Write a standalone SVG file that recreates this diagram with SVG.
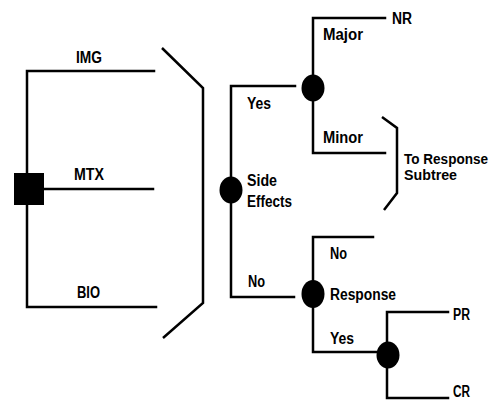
<svg xmlns="http://www.w3.org/2000/svg" width="494" height="402" viewBox="0 0 494 402">
<style>
.ln{fill:none;stroke:#000;stroke-width:2.5;stroke-linecap:square}
.br{fill:none;stroke:#000;stroke-width:2.5;stroke-linejoin:miter}
.nd{fill:#000;stroke:none}
text{font-family:"Liberation Sans Narrow","Liberation Sans",Arial,sans-serif;font-weight:bold;font-size:16px;fill:#000}
.sm{font-size:14px}
</style>
<rect width="494" height="402" fill="#fff"/>
<g id="connectors">
<path class="ln" d="M154,71 H27 V307 H156"/>
<path class="ln" d="M44,189 H153"/>
<path class="ln" d="M295,86 H231 V297 H294"/>
<path class="ln" d="M385,18 H313 V153 H385"/>
<path class="ln" d="M373,237 H313 V352 H386"/>
<path class="ln" d="M448,312 H387 V398 H448"/>
</g>
<g id="brackets">
<path class="br" d="M162,48 L203,88 V303 L163,338"/>
<path class="br" d="M382,117 L397,128 V193 L384,210"/>
</g>
<g id="node-treatment">
<rect class="nd" x="14" y="173" width="30" height="32"/>
<text x="76" y="63" textLength="26" lengthAdjust="spacingAndGlyphs">IMG</text>
<text x="74" y="180" textLength="30" lengthAdjust="spacingAndGlyphs">MTX</text>
<text x="77" y="298" textLength="23" lengthAdjust="spacingAndGlyphs">BIO</text>
</g>
<g id="node-side-effects">
<ellipse class="nd" cx="231" cy="190" rx="11.5" ry="13.5"/>
<text x="247" y="186" textLength="30" lengthAdjust="spacingAndGlyphs">Side</text>
<text x="247" y="207" textLength="45" lengthAdjust="spacingAndGlyphs">Effects</text>
<text x="247" y="109" textLength="24" lengthAdjust="spacingAndGlyphs">Yes</text>
<text x="248" y="287" textLength="17" lengthAdjust="spacingAndGlyphs">No</text>
</g>
<g id="node-severity">
<ellipse class="nd" cx="313" cy="88" rx="11.5" ry="13.5"/>
<text x="323" y="40" textLength="40" lengthAdjust="spacingAndGlyphs">Major</text>
<text x="323" y="143" textLength="40" lengthAdjust="spacingAndGlyphs">Minor</text>
<text x="392" y="24" textLength="20" lengthAdjust="spacingAndGlyphs">NR</text>
<text class="sm" x="404" y="164" textLength="84" lengthAdjust="spacingAndGlyphs">To Response</text>
<text class="sm" x="404" y="180" textLength="53" lengthAdjust="spacingAndGlyphs">Subtree</text>
</g>
<g id="node-response">
<ellipse class="nd" cx="313" cy="294" rx="11.5" ry="14"/>
<text x="330" y="259" textLength="17" lengthAdjust="spacingAndGlyphs">No</text>
<text x="330" y="300" textLength="66" lengthAdjust="spacingAndGlyphs">Response</text>
<text x="330" y="344" textLength="24" lengthAdjust="spacingAndGlyphs">Yes</text>
</g>
<g id="node-outcome">
<ellipse class="nd" cx="388" cy="355" rx="11.5" ry="13.5"/>
<text x="453" y="320" textLength="17" lengthAdjust="spacingAndGlyphs">PR</text>
<text x="453" y="397" textLength="17" lengthAdjust="spacingAndGlyphs">CR</text>
</g>
</svg>
